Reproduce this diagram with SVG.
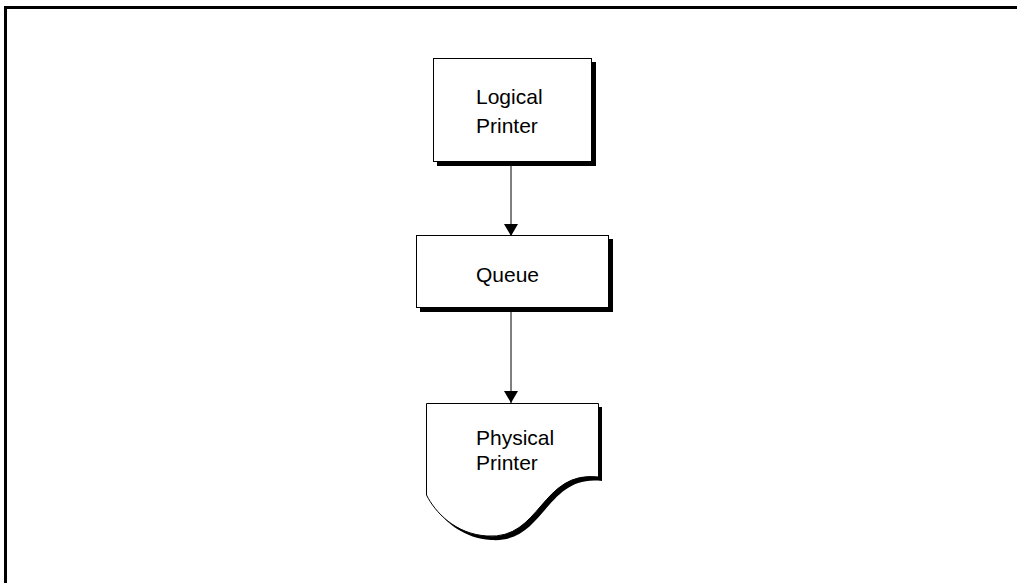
<svg xmlns="http://www.w3.org/2000/svg" width="1017" height="583" viewBox="0 0 1017 583">
<defs>
<style>
.box{fill:#fff;stroke:#000;stroke-width:1}
.sh{fill:#000}
.lbl{font-family:"Liberation Sans",Arial,sans-serif;font-size:21px;fill:#000}
.conn{stroke:#000;stroke-width:1;fill:none}
</style>
<marker id="arr" viewBox="0 0 12 14" refX="12" refY="7" markerWidth="12" markerHeight="14" markerUnits="userSpaceOnUse" orient="auto">
<path d="M0,0 L12,7 L0,14 Z" fill="#000"/>
</marker>
</defs>
<rect width="1017" height="583" fill="#fff"/>
<g id="frame">
<line x1="4" y1="7.5" x2="1017" y2="7.5" stroke="#000" stroke-width="3"/>
<line x1="5.5" y1="6" x2="5.5" y2="583" stroke="#000" stroke-width="3"/>
</g>
<g id="connectors">
<line class="conn" x1="511" y1="166" x2="511" y2="236" marker-end="url(#arr)"/>
<line class="conn" x1="511" y1="312" x2="511" y2="403" marker-end="url(#arr)"/>
</g>
<g id="logical-printer">
<rect class="sh" x="437" y="62" width="159" height="104"/>
<rect class="box" x="433.5" y="58.5" width="158" height="103"/>
<text class="lbl" x="476" y="104">Logical</text>
<text class="lbl" x="476" y="133">Printer</text>
</g>
<g id="queue">
<rect class="sh" x="420" y="239" width="193" height="73"/>
<rect class="box" x="416.5" y="235.5" width="192" height="72"/>
<text class="lbl" x="476" y="282">Queue</text>
</g>
<g id="physical-printer">
<path class="sh" d="M430,407 H602 V481 C545,474 545,544 491,540 C459,538 439,516 430,499 Z"/>
<path class="box" d="M426.5,403.5 H598.5 V477 C541,470 541,540 487,536 C455,534 435,512 426.5,495 Z"/>
<text class="lbl" x="476" y="445">Physical</text>
<text class="lbl" x="476" y="470">Printer</text>
</g>
</svg>
